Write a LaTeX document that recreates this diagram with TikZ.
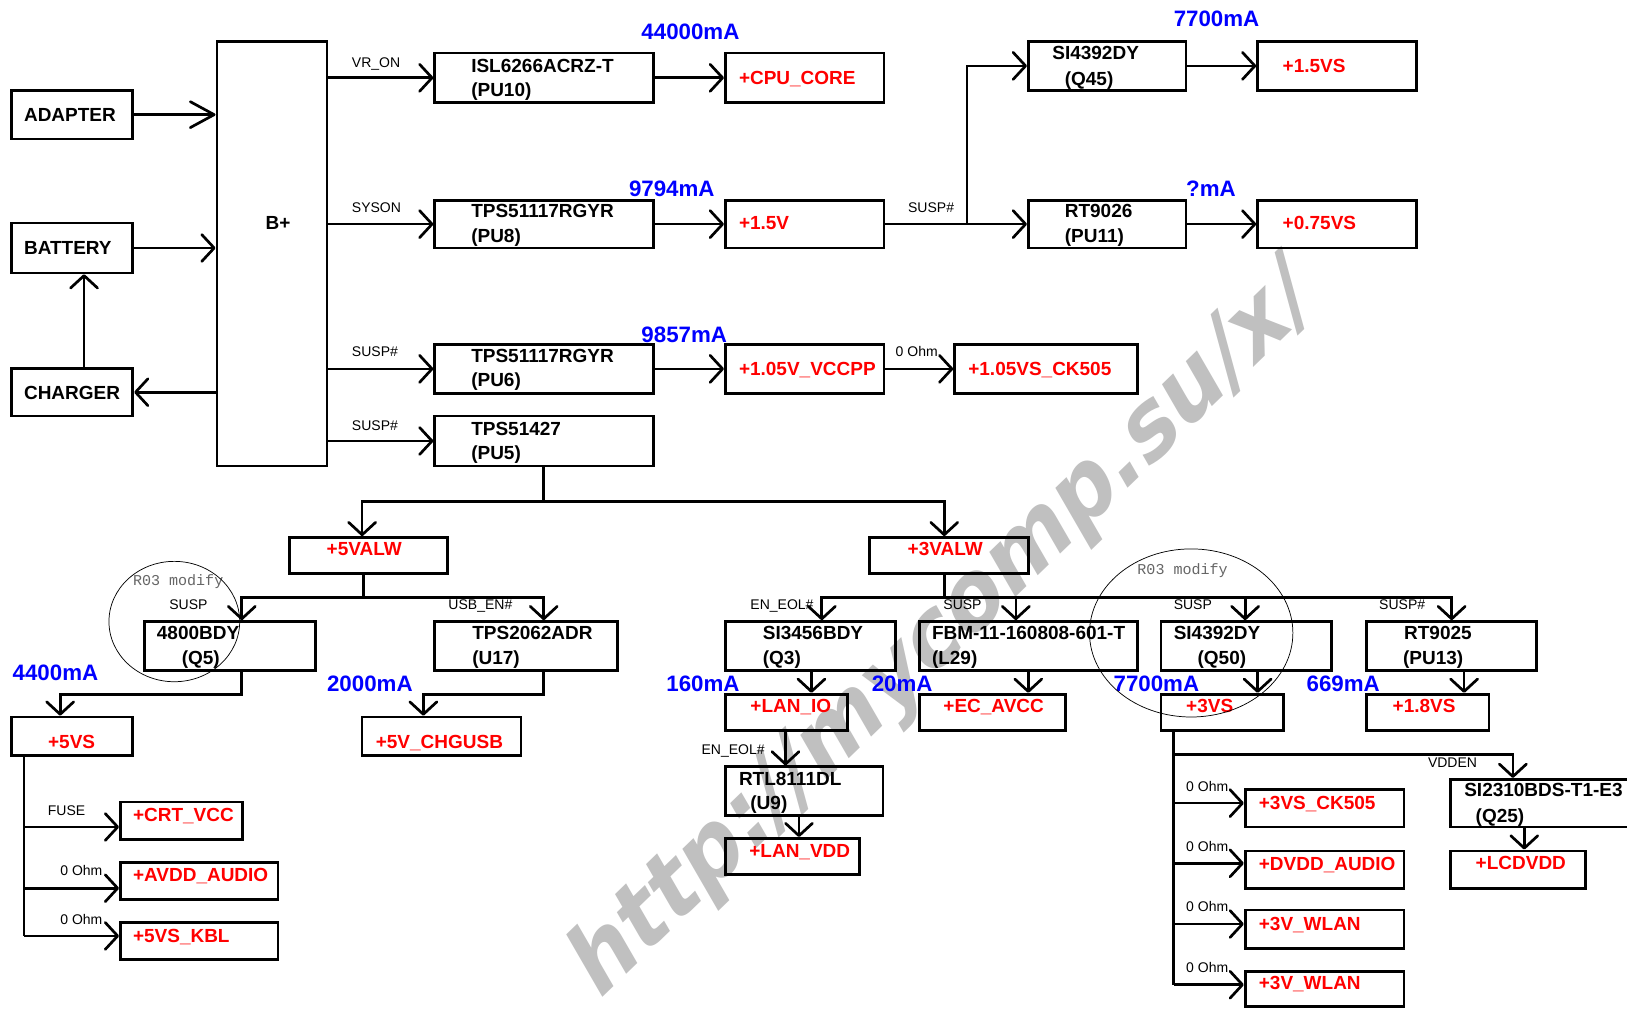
\documentclass[tikz,border=0pt]{standalone}
\usepackage{fontspec}
\setmainfont{Liberation Sans}
\newfontfamily\monofam{Liberation Mono}
\newfontfamily\wmfam{DejaVu Sans}
\usetikzlibrary{arrows.meta,fit}
\definecolor{wmgray}{RGB}{192,192,192}
\definecolor{redc}{RGB}{255,0,0}
\definecolor{bluec}{RGB}{0,0,255}
\tikzset{
  box/.style={draw, line width=2.6pt, inner sep=0pt},
  ln/.style={line width=2.6pt},
  arr/.style={line width=2.6pt, -{Straight Barb[length=12pt,width=26pt,round]}},
  arrl/.style={line width=2.6pt, -{Straight Barb[length=23pt,width=25pt,round]}},
  bt/.style={font=\fontsize{18.3}{18.3}\selectfont\bfseries, inner sep=0pt, text height=13.1pt, text depth=0pt, anchor=west},
  rt/.style={bt, text=redc},
  ct/.style={font=\fontsize{21.5}{21.5}\selectfont\bfseries, text=bluec, inner sep=0pt, text height=15.4pt, text depth=0pt, anchor=west},
  st/.style={font=\fontsize{13.5}{13.5}\selectfont, inner sep=0pt, text height=9.7pt, text depth=0pt, anchor=west},
  mt/.style={font=\monofam\fontsize{14.5}{14.5}\selectfont, text=black!60, inner sep=0pt, text height=9pt, text depth=0pt, anchor=west},
  ring/.style={line width=0.7pt},
  wm/.style={font=\wmfam\fontsize{99}{99}\selectfont\bfseries, text=wmgray, inner sep=0pt},
}
\begin{document}
\begin{tikzpicture}[x=1pt,y=-1pt]
\useasboundingbox[fill=white] (0,0) rectangle (1568,973);
% ---------- watermark (behind) ----------
\node[wm, xscale=0.773, rotate=36.8] (wmk) at (910,609) {http://mycomp.su/x/};
% ---------- boxes ----------
\node[box, fit={(11,87)(128,134)}] (adapter) {};
\node[box, fit={(11,215)(128,263)}] (battery) {};
\node[box, fit={(11,355)(128,401)}] (charger) {};
\node[box, fit={(209,40)(315,449)}] (bplus) {};
\node[box, fit={(419,51)(630,99)}] (pu10) {};
\node[box, fit={(419,193)(630,239)}] (pu8) {};
\node[box, fit={(419,332)(630,379)}] (pu6) {};
\node[box, fit={(419,401)(630,449)}] (pu5) {};
\node[box, fit={(699,51)(852,99)}] (cpu) {};
\node[box, fit={(699,193)(852,239)}] (v15) {};
\node[box, fit={(699,332)(852,379)}] (v105) {};
\node[box, fit={(920,332)(1096,379)}] (ck105) {};
\node[box, fit={(991,40)(1143,87)}] (q45) {};
\node[box, fit={(991,193)(1143,239)}] (pu11) {};
\node[box, fit={(1212,40)(1365,87)}] (v15s) {};
\node[box, fit={(1212,193)(1365,239)}] (v075) {};
\node[box, fit={(279,518)(431,553)}] (v5alw) {};
\node[box, fit={(838,518)(991,553)}] (v3alw) {};
\node[box, fit={(139,599)(304,646)}] (q5) {};
\node[box, fit={(419,599)(595,646)}] (u17) {};
\node[box, fit={(699,599)(863,646)}] (q3) {};
\node[box, fit={(886,599)(1096,646)}] (l29) {};
\node[box, fit={(1119,599)(1283,646)}] (q50) {};
\node[box, fit={(1317,599)(1481,646)}] (pu13) {};
\node[box, fit={(11,691)(128,728)}] (v5vs) {};
\node[box, fit={(349,691)(502,728)}] (chg) {};
\node[box, fit={(699,669)(817,704)}] (lanio) {};
\node[box, fit={(886,669)(1027,704)}] (ecavcc) {};
\node[box, fit={(1119,669)(1237,704)}] (v3vs) {};
\node[box, fit={(1317,669)(1435,704)}] (v18) {};
\node[box, fit={(699,739)(851,786)}] (u9) {};
\node[box, fit={(699,808)(828,843)}] (lanvdd) {};
\node[box, fit={(1398,751)(1600,797)}] (q25) {};
\node[box, fit={(1398,820)(1528,856)}] (lcd) {};
\node[box, fit={(116,773)(234,809)}] (crt) {};
\node[box, fit={(116,831)(268,867)}] (avdd) {};
\node[box, fit={(116,889)(268,925)}] (kbl) {};
\node[box, fit={(1200,761)(1353,797)}] (ck3) {};
\node[box, fit={(1200,820)(1353,856)}] (dvdd) {};
\node[box, fit={(1200,877)(1353,914)}] (wl1) {};
\node[box, fit={(1200,936)(1353,970)}] (wl2) {};
% ---------- box texts ----------
\node[bt] (tad) at (23,110.5) {ADAPTER};
\node[bt] (tba) at (23,239) {BATTERY};
\node[bt] (tch) at (23,378) {CHARGER};
\node[bt, anchor=center] (tbp) at (268,215) {B+};
\node[bt] (tpu10a) at (454,63) {ISL6266ACRZ-T};
\node[bt] (tpu10b) at (454,86) {(PU10)};
\node[bt] (tpu8a) at (454,203) {TPS51117RGYR};
\node[bt] (tpu8b) at (454,227) {(PU8)};
\node[bt] (tpu6a) at (454,343) {TPS51117RGYR};
\node[bt] (tpu6b) at (454,366) {(PU6)};
\node[bt] (tpu5a) at (454,413) {TPS51427};
\node[bt] (tpu5b) at (454,436) {(PU5)};
\node[rt] (tcpu) at (712,75) {+CPU\_CORE};
\node[rt] (tv15) at (712,215) {+1.5V};
\node[rt] (tv105) at (712,355) {+1.05V\_VCCPP};
\node[rt] (tck105) at (933,355) {+1.05VS\_CK505};
\node[bt] (tq45a) at (1014,51) {SI4392DY};
\node[bt] (tq45b) at (1026,76) {(Q45)};
\node[bt] (tpu11a) at (1026,203) {RT9026};
\node[bt] (tpu11b) at (1026,227) {(PU11)};
\node[rt] (tv15s) at (1236,63) {+1.5VS};
\node[rt] (tv075) at (1236,215) {+0.75VS};
\node[rt, anchor=center] (tv5alw) at (351,529) {+5VALW};
\node[rt, anchor=center] (tv3alw) at (911,529) {+3VALW};
\node[bt] (tq5a) at (151,610) {4800BDY};
\node[bt] (tq5b) at (175,634) {(Q5)};
\node[bt] (tu17a) at (455,610) {TPS2062ADR};
\node[bt] (tu17b) at (455,634) {(U17)};
\node[bt] (tq3a) at (735,610) {SI3456BDY};
\node[bt] (tq3b) at (735,634) {(Q3)};
\node[bt] (tl29a) at (898,610) {FBM-11-160808-601-T};
\node[bt] (tl29b) at (898,634) {(L29)};
\node[bt] (tq50a) at (1131,610) {SI4392DY};
\node[bt] (tq50b) at (1154,634) {(Q50)};
\node[bt] (tpu13a) at (1353,610) {RT9025};
\node[bt] (tpu13b) at (1352,634) {(PU13)};
\node[rt, anchor=center] (tv5vs) at (69,715) {+5VS};
\node[rt] (tchg) at (362,715) {+5V\_CHGUSB};
\node[rt] (tlanio) at (723,680) {+LAN\_IO};
\node[rt] (tecavcc) at (909,680) {+EC\_AVCC};
\node[rt] (tv3vs) at (1143,680) {+3VS};
\node[rt] (tv18) at (1342,680) {+1.8VS};
\node[bt] (tu9a) at (712,750) {RTL8111DL};
\node[bt] (tu9b) at (723,774) {(U9)};
\node[rt] (tlanvdd) at (722,820) {+LAN\_VDD};
\node[bt] (tq25a) at (1411,761) {SI2310BDS-T1-E3};
\node[bt] (tq25b) at (1422,786) {(Q25)};
\node[rt] (tlcd) at (1422,831) {+LCDVDD};
\node[rt] (tcrt) at (128,785) {+CRT\_VCC};
\node[rt] (tavdd) at (128,843) {+AVDD\_AUDIO};
\node[rt] (tkbl) at (128,902) {+5VS\_KBL};
\node[rt] (tck3) at (1213,774) {+3VS\_CK505};
\node[rt] (tdvdd) at (1213,832) {+DVDD\_AUDIO};
\node[rt] (twl1) at (1213,890) {+3V\_WLAN};
\node[rt] (twl2) at (1213,947) {+3V\_WLAN};
% ---------- currents ----------
\node[ct] (c1) at (618,30) {44000mA};
\node[ct] (c2) at (606,182) {9794mA};
\node[ct] (c3) at (618,322) {9857mA};
\node[ct] (c4) at (1131,18) {7700mA};
\node[ct] (c5) at (1143,182) {?mA};
\node[ct] (c6) at (12,648) {4400mA};
\node[ct] (c7) at (315,659) {2000mA};
\node[ct] (c8) at (642,659) {160mA};
\node[ct] (c9) at (840,659) {20mA};
\node[ct] (c10) at (1073,659) {7700mA};
\node[ct] (c11) at (1259,659) {669mA};
% ---------- signal labels ----------
\node[st] (s1) at (339,60) {VR\_ON};
\node[st] (s2) at (339,200) {SYSON};
\node[st] (s3) at (339,339) {SUSP\#};
\node[st] (s4) at (339,410) {SUSP\#};
\node[st] (s5) at (875,200) {SUSP\#};
\node[st] (s6) at (863,339) {0 Ohm};
\node[st] (s7) at (163,583) {SUSP};
\node[st] (s8) at (432,583) {USB\_EN\#};
\node[st] (s9) at (723,583) {EN\_EOL\#};
\node[st] (s10) at (909,583) {SUSP};
\node[st] (s11) at (1131,583) {SUSP};
\node[st] (s12) at (1329,583) {SUSP\#};
\node[st] (s13) at (676,722) {EN\_EOL\#};
\node[st] (s14) at (1376,735) {VDDEN};
\node[st] (s15) at (46,781) {FUSE};
\node[st] (s16) at (58,839) {0 Ohm};
\node[st] (s17) at (58,886) {0 Ohm};
\node[st] (s18) at (1143,758) {0 Ohm};
\node[st] (s19) at (1143,816) {0 Ohm};
\node[st] (s20) at (1143,874) {0 Ohm};
\node[st] (s21) at (1143,932) {0 Ohm};
\node[mt] (m1) at (128,560) {R03 modify};
\node[mt] (m2) at (1096,549) {R03 modify};
\draw[ring] (168,599) ellipse [x radius=63, y radius=58];
\draw[ring] (1148,610) ellipse [x radius=98, y radius=81];
% ---------- connectors: top ----------
\draw[arrl] (adapter.east) -- (adapter.east -| bplus.west);
\draw[arr] (battery.east) -- (battery.east -| bplus.west);
\draw[arr] (bplus.west |- charger.east) -- (charger.east);
\coordinate (cb) at (81,300);
\draw[arr] (charger.north -| cb) -- (battery.south -| cb);
\draw[arr] (bplus.east |- pu10.west) -- (pu10.west);
\draw[arr] (bplus.east |- pu8.west) -- (pu8.west);
\draw[arr] (bplus.east |- pu6.west) -- (pu6.west);
\draw[arr] (bplus.east |- pu5.west) -- (pu5.west);
\draw[arr] (pu10.east) -- (cpu.west);
\draw[arr] (pu8.east) -- (v15.west);
\draw[arr] (pu6.east) -- (v105.west);
\draw[arr] (v105.east) -- (ck105.west);
\coordinate (sj) at (932,216);
\draw[ln] (v15.east) -- (sj);
\draw[arr] (sj) |- (q45.west);
\draw[arr] (sj) -- (pu11.west);
\draw[arr] (q45.east) -- (v15s.west);
\draw[arr] (pu11.east) -- (v075.west);
% ---------- connectors: lower ----------
\coordinate (j0) at (524,483);
\coordinate (b5) at (349,483);
\coordinate (b3) at (910,483);
\draw[ln] (pu5.south -| j0) -- (j0);
\draw[arr] (j0) -- (b5) -- (b5 |- v5alw.north);
\draw[arr] (j0) -- (b3) -- (b3 |- v3alw.north);
\coordinate (s5j) at (350,576);
\coordinate (q5i) at (233,576);
\coordinate (u17i) at (524,576);
\draw[ln] (v5alw.south -| s5j) -- (s5j);
\draw[arr] (s5j) -- (q5i) -- (q5i |- q5.north);
\draw[arr] (s5j) -- (u17i) -- (u17i |- u17.north);
\coordinate (q5o) at (233,669);
\coordinate (v5i) at (58,669);
\draw[arr] (q5.south -| q5o) -- (q5o) -- (v5i) -- (v5i |- v5vs.north);
\coordinate (u17o) at (524,669);
\coordinate (chgi) at (408,669);
\draw[arr] (u17.south -| u17o) -- (u17o) -- (chgi) -- (chgi |- chg.north);
\coordinate (v5o) at (23,902);
\draw[ln] (v5vs.south -| v5o) -- (v5o);
\coordinate (bc1) at (23,797);
\coordinate (bc2) at (23,856);
\draw[arr] (bc1) -- (bc1 -| crt.west);
\draw[arr] (bc2) -- (bc2 -| avdd.west);
\draw[arr] (v5o) -- (v5o -| kbl.west);
\coordinate (s3j) at (910,576);
\coordinate (q3i) at (792,576);
\coordinate (l29i) at (979,576);
\coordinate (q50i) at (1200,576);
\coordinate (pu13i) at (1399,576);
\draw[ln] (v3alw.south -| s3j) -- (s3j);
\draw[arr] (s3j) -- (q3i) -- (q3i |- q3.north);
\draw[arr] (s3j) -- (pu13i) -- (pu13i |- pu13.north);
\draw[arr] (l29i) -- (l29i |- l29.north);
\draw[arr] (q50i) -- (q50i |- q50.north);
\coordinate (q3o) at (782,650);
\coordinate (l29o) at (991,650);
\coordinate (q50o) at (1212,650);
\coordinate (pu13o) at (1411,650);
\draw[arr] (q3.south -| q3o) -- (lanio.north -| q3o);
\draw[arr] (l29.south -| l29o) -- (ecavcc.north -| l29o);
\draw[arr] (q50.south -| q50o) -- (v3vs.north -| q50o);
\draw[arr] (pu13.south -| pu13o) -- (v18.north -| pu13o);
\coordinate (lo) at (757,720);
\draw[arr] (lanio.south -| lo) -- (u9.north -| lo);
\coordinate (uo) at (770,790);
\draw[arr] (u9.south -| uo) -- (lanvdd.north -| uo);
\coordinate (v3o) at (1131,949);
\draw[ln] (v3vs.south -| v3o) -- (v3o);
\coordinate (q25j) at (1131,727);
\coordinate (q25i) at (1458,727);
\draw[arr] (q25j) -- (q25i) -- (q25i |- q25.north);
\coordinate (q25o) at (1469,800);
\draw[arr] (q25.south -| q25o) -- (lcd.north -| q25o);
\coordinate (bd1) at (1131,774);
\coordinate (bd2) at (1131,832);
\coordinate (bd3) at (1131,890.5);
\draw[arr] (bd1) -- (bd1 -| ck3.west);
\draw[arr] (bd2) -- (bd2 -| dvdd.west);
\draw[arr] (bd3) -- (bd3 -| wl1.west);
\draw[arr] (v3o) -- (v3o -| wl2.west);
\end{tikzpicture}
\end{document}
